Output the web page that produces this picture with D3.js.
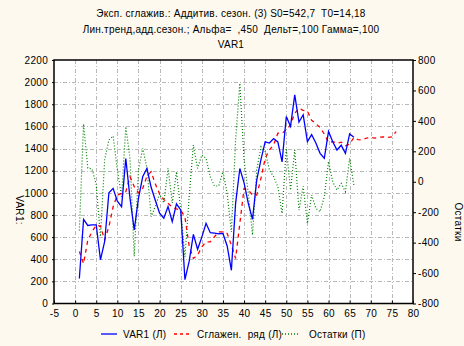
<!DOCTYPE html>
<html>
<head>
<meta charset="utf-8">
<script src="https://cdn.jsdelivr.net/npm/d3@7"></script>
<style>
  html, body { margin: 0; padding: 0; background: #fdf9ee; }
  svg { display: block; }
  text { font-family: "Liberation Sans", Arial, sans-serif; fill: #000; }
</style>
</head>
<body>
<script>
// ---- data ----
const titleLines = [
  "Эксп. сглажив.: Аддитив. сезон. (3) S0=542,7  T0=14,18",
  "Лин.тренд,адд.сезон.; Альфа=  ,450  Дельт=,100 Гамма=,100",
  "VAR1"
];
const xTicks = [-5, 0, 5, 10, 15, 20, 25, 30, 35, 40, 45, 50, 55, 60, 65, 70, 75, 80];
const yLeftTicks = [0, 200, 400, 600, 800, 1000, 1200, 1400, 1600, 1800, 2000, 2200];
const yRightTicks = [-800, -600, -400, -200, 0, 200, 400, 600, 800];

const var1 = [226, 760, 705, 710, 710, 395, 560, 1000, 1040, 925,
  875, 1310, 950, 665, 950, 1145, 1220, 1050, 930, 815,
  770, 875, 740, 900, 845, 215, 380, 625, 490, 600,
  725, 640, 635, 630, 633, 520, 300, 905, 1220, 1090,
  905, 760, 1115, 1300, 1460, 1450, 1490, 1460, 1280, 1690,
  1600, 1885, 1640, 1705, 1462, 1525, 1450, 1357, 1312, 1555,
  1462, 1387, 1430, 1357, 1532, 1502];

const smoothed = [470, 360, 573, 648, 708, 700, 575, 693, 874, 980,
  995, 1010, 1146, 1055, 1000, 1040, 1150, 1190, 1080, 990,
  940, 905, 870, 855, 845, 780, 520, 407, 437, 512,
  557, 557, 603, 648, 648, 633, 527, 407, 724, 1040,
  1025, 980, 980, 1131, 1312, 1387, 1432, 1538, 1538, 1568,
  1613, 1719, 1764, 1745, 1738, 1655, 1625, 1590, 1530, 1455,
  1462, 1448, 1458, 1425, 1440, 1500, 1480, 1478, 1495, 1500,
  1495, 1502, 1505, 1500, 1505, 1553];

const residuals = [-320, 380, 90, 85, -20, -360, 145, 275, 300, 77,
  -98, 362, 150, -490, 77, 220, 90, -230, -160, -80,
  -140, 88, -140, 66, -186, -493, -100, 241, 88, 176,
  154, 33, -28, -28, 66, -76, -330, 275, 647, 143,
  -76, -350, 77, 230, 200, 77, 33, -33, -208, 220,
  -55, 208, -186, -30, -273, -87, -175, -197, -98, 132,
  0, -55, -11, -65, 154, -22];

const legendLabels = ["VAR1 (Л)", "Сглажен.  ряд (Л)", "Остатки (П)"];
const seriesColors = ["#0000ff", "#ff0000", "#008000"];

// ---- layout ----
const W = 464, H = 346;
const L = 54, R = 413, T = 60, B = 303.5;

const svg = d3.select("body").append("svg").attr("width", W).attr("height", H);
svg.append("rect").attr("width", W).attr("height", H).attr("fill", "#fdf9ee");

const x = d3.scaleLinear().domain([-5, 80]).range([L, R]);
const yL = d3.scaleLinear().domain([0, 2200]).range([B, T]);
const yR = d3.scaleLinear().domain([-800, 800]).range([B, T]);

const fmt = d => (d < 0 ? "-" : "") + Math.abs(d);

// plot area
svg.append("rect").attr("x", L).attr("y", T).attr("width", R - L).attr("height", B - T).attr("fill", "#ffffff");

// grid
const grid = svg.append("g").attr("stroke", "#b8b8b8").attr("stroke-width", 1).attr("stroke-dasharray", "4,2,1,2");
grid.selectAll("line.v").data(xTicks.filter(d => d > -5 && d < 80)).join("line")
  .attr("x1", d => Math.round(x(d)) + 0.5).attr("x2", d => Math.round(x(d)) + 0.5)
  .attr("y1", T).attr("y2", B);
grid.selectAll("line.h").data(yLeftTicks.filter(d => d > 0 && d < 2200)).join("line")
  .attr("y1", d => Math.round(yL(d)) + 0.5).attr("y2", d => Math.round(yL(d)) + 0.5)
  .attr("x1", L).attr("x2", R);

// series
const idx = (arr) => arr.map((v, i) => [i + 1, v]);
const lineL = d3.line().x(d => x(d[0])).y(d => yL(d[1]));
const lineR = d3.line().x(d => x(d[0])).y(d => yR(d[1]));

svg.append("path").datum(idx(residuals)).attr("d", lineR)
  .attr("fill", "none").attr("stroke", seriesColors[2]).attr("stroke-width", 1.2).attr("stroke-dasharray", "1,2");
svg.append("path").datum(idx(smoothed)).attr("d", lineL)
  .attr("fill", "none").attr("stroke", seriesColors[1]).attr("stroke-width", 1.3).attr("stroke-dasharray", "4,4");
svg.append("path").datum(idx(var1)).attr("d", lineL)
  .attr("fill", "none").attr("stroke", seriesColors[0]).attr("stroke-width", 1.3);

// frame
svg.append("rect").attr("x", L).attr("y", T).attr("width", R - L).attr("height", B - T)
  .attr("fill", "none").attr("stroke", "#000").attr("stroke-width", 1.5);

// axes
const fs = "10px";
const xAxis = svg.append("g").attr("transform", `translate(0,${B})`)
  .call(d3.axisBottom(x).tickValues(xTicks).tickSize(-3).tickPadding(7).tickFormat(fmt));
const yAxisL = svg.append("g").attr("transform", `translate(${L},0)`)
  .call(d3.axisLeft(yL).tickValues(yLeftTicks).tickSize(2).tickPadding(4).tickFormat(fmt));
const yAxisR = svg.append("g").attr("transform", `translate(${R},0)`)
  .call(d3.axisRight(yR).tickValues(yRightTicks).tickSize(3).tickPadding(2).tickFormat(fmt));
[xAxis, yAxisL, yAxisR].forEach(g => {
  g.select(".domain").remove();
  g.selectAll("text").attr("font-size", fs).attr("font-family", "Liberation Sans, Arial, sans-serif")
    .attr("fill", "#000").style("letter-spacing", "0.3px");
  g.selectAll("line").attr("stroke", "#000");
});
xAxis.selectAll("text").attr("dy", "0.71em").attr("y", 6);

// titles
svg.selectAll("text.title").data(titleLines).join("text")
  .attr("class", "title")
  .attr("x", 231).attr("y", (d, i) => 17 + i * 15.5)
  .attr("text-anchor", "middle").attr("font-size", "10px")
  .style("white-space", "pre").style("letter-spacing", "0.25px")
  .text(d => d);

// axis titles
svg.append("text").attr("transform", "translate(16,210) rotate(90)")
  .attr("text-anchor", "middle").attr("font-size", "10px").style("letter-spacing", "0.3px").text("VAR1:");
svg.append("text").attr("transform", "translate(455,222) rotate(90)")
  .attr("text-anchor", "middle").attr("font-size", "10px").style("letter-spacing", "0.3px").text("Остатки");

// legend
const legX = [101, 174, 282];
const legTextX = [123, 197, 309];
const legY = 334;
const dashes = [null, "3,3", "1,2"];
const leg = svg.append("g");
legendLabels.forEach((lab, i) => {
  leg.append("line").attr("x1", legX[i]).attr("x2", legX[i] + 16).attr("y1", legY).attr("y2", legY)
    .attr("stroke", seriesColors[i]).attr("stroke-width", 1.3)
    .attr("stroke-dasharray", dashes[i]);
  leg.append("text").attr("x", legTextX[i]).attr("y", legY + 3.5).attr("font-size", "10px")
    .style("white-space", "pre").style("letter-spacing", "0.25px").text(lab);
});
</script>
</body>
</html>
